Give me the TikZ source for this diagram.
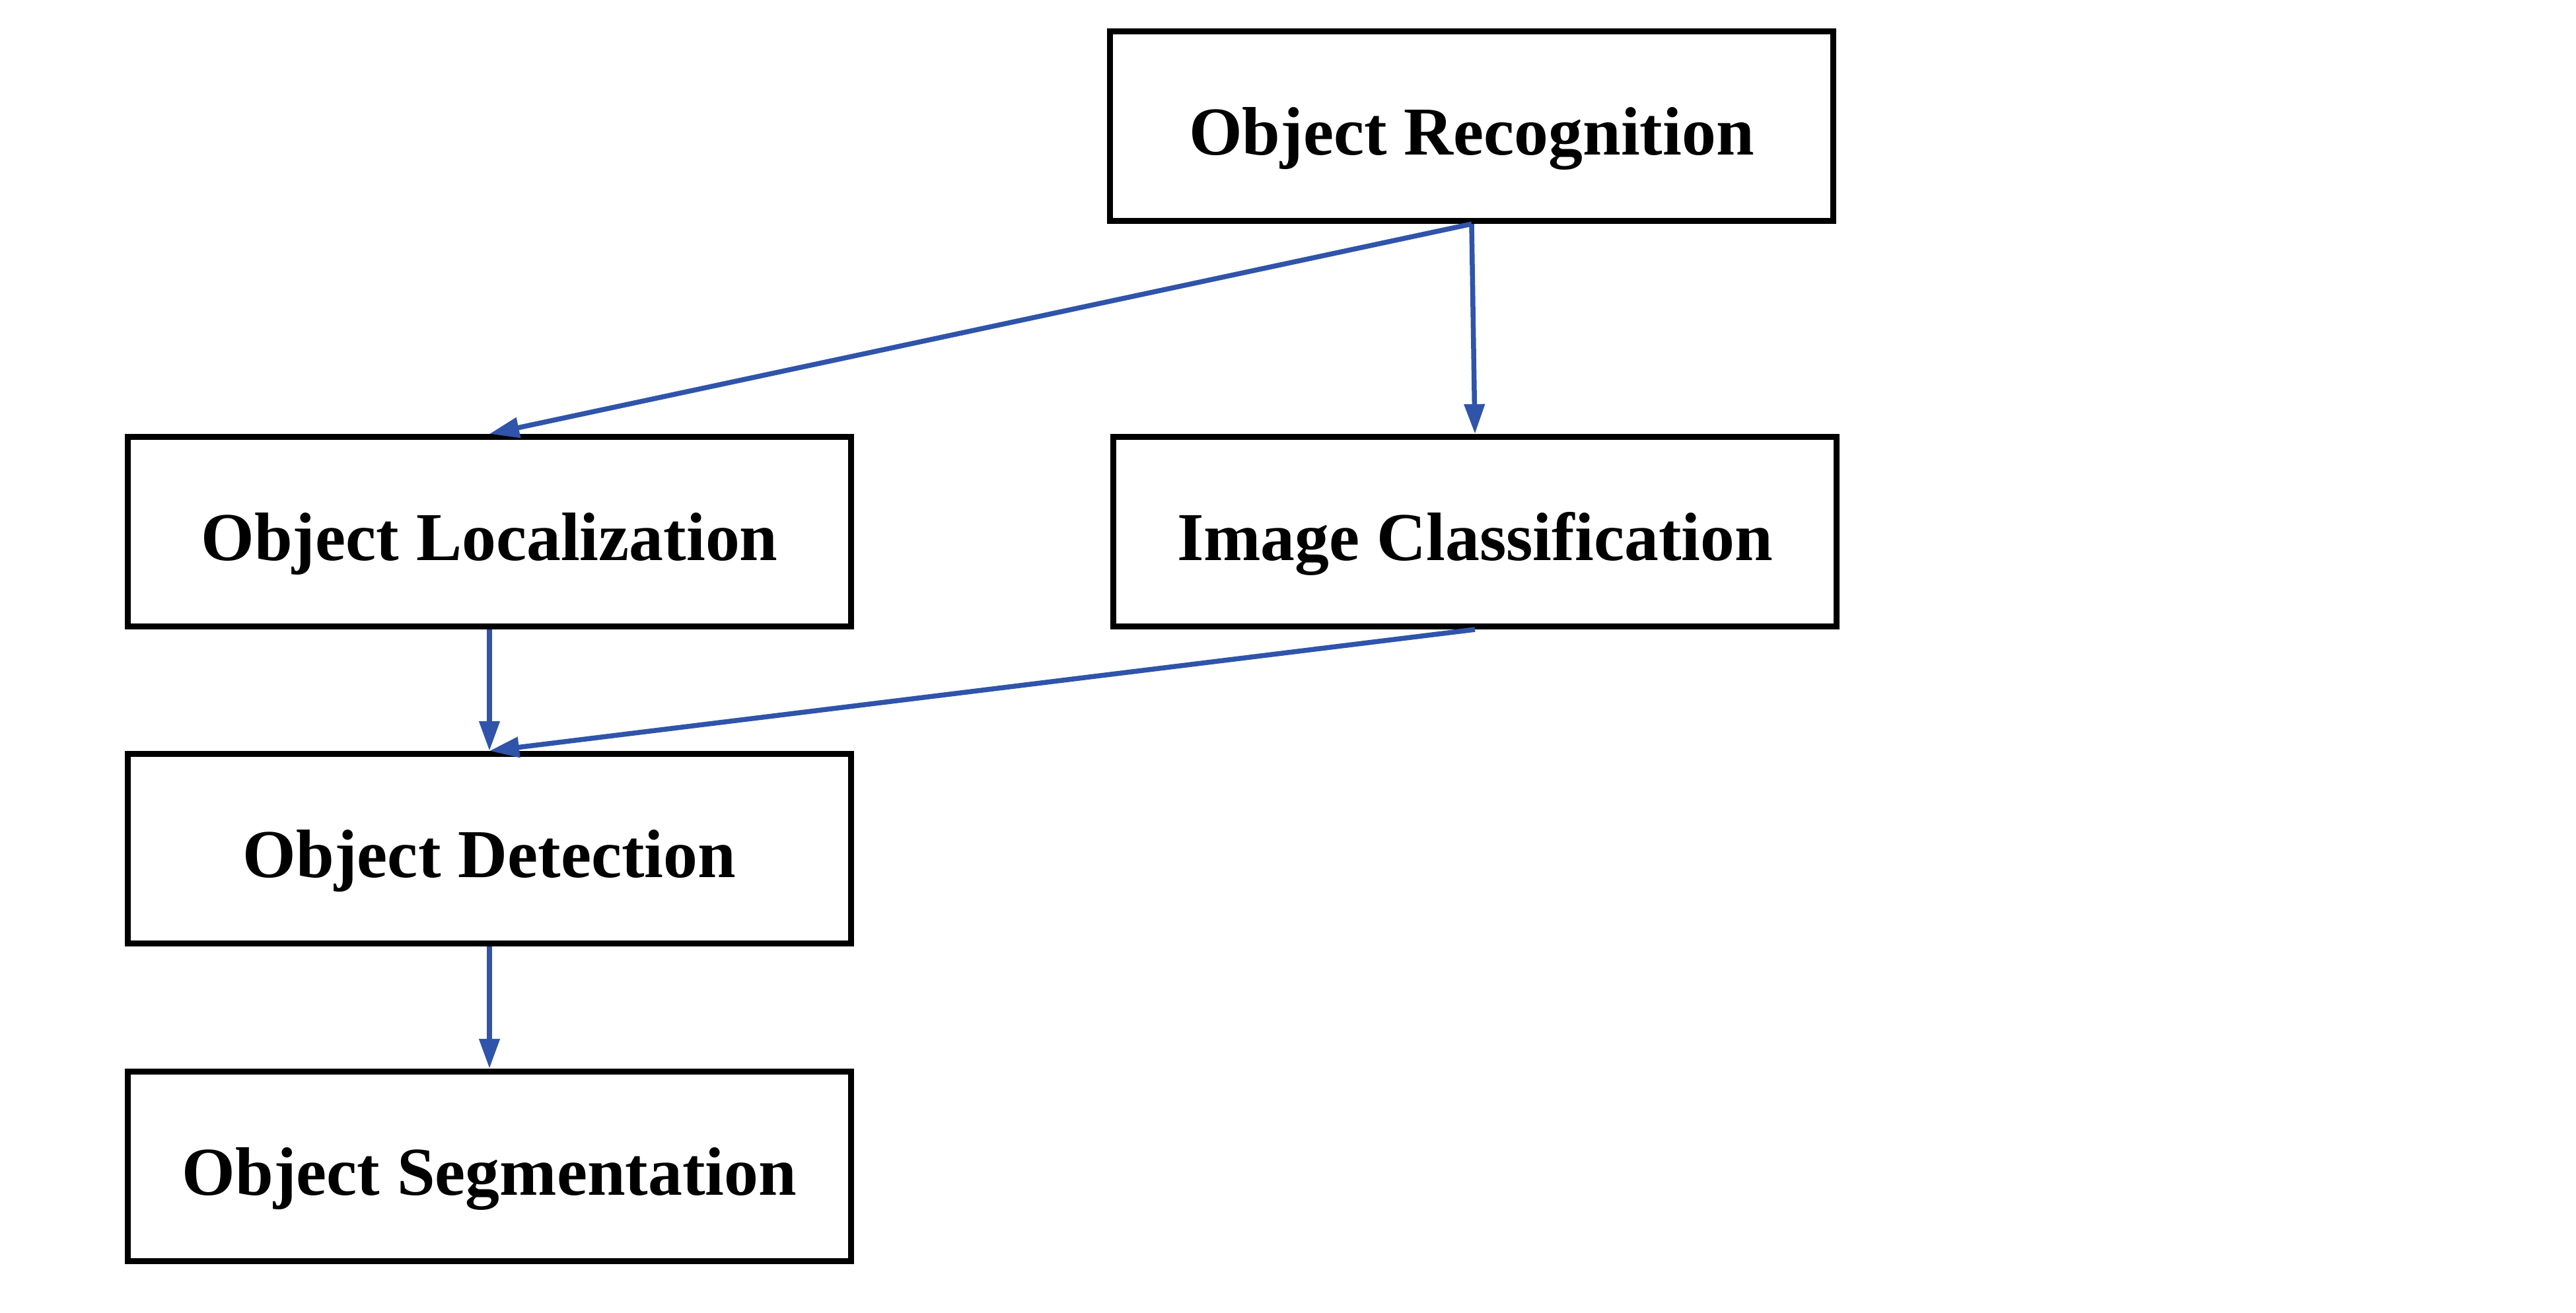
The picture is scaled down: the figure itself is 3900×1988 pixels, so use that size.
\documentclass[tikz,border=0pt]{standalone}
\usepackage{fontspec}
\setmainfont{Liberation Serif}
\usetikzlibrary{arrows.meta}
\definecolor{arrowblue}{RGB}{47,84,170}
\newcommand{\boxtext}[1]{\raisebox{-0.43cm}[0pt][0pt]{#1}}
\begin{document}
\begin{tikzpicture}[x=0.01cm,y=-0.01cm,
  box/.style={draw=black,line width=0.09cm,fill=white,minimum width=10.95cm,minimum height=2.87cm,inner sep=0pt,
    font=\fontsize{29.5}{36}\selectfont\bfseries},
  conn/.style={draw=arrowblue,line width=0.075cm,-{Triangle[length=0.45cm,width=0.3cm]}}]
\useasboundingbox (0,0) rectangle (3900,1988);
\node[box] (rec) at (2228,191) {\boxtext{Object Recognition}};
\node[box] (loc) at (741,805) {\boxtext{Object Localization}};
\node[box] (cls) at (2233,805) {\boxtext{Image Classification}};
\node[box] (det) at (741,1285) {\boxtext{Object Detection}};
\node[box] (seg) at (741,1766) {\boxtext{Object Segmentation}};
\draw[conn] (rec.south) -- (loc.north);
\draw[conn] (rec.south) -- (cls.north);
\draw[conn] (loc.south) -- (det.north);
\draw[conn] (cls.south) -- (det.north);
\draw[conn] (det.south) -- (seg.north);
\end{tikzpicture}
\end{document}
